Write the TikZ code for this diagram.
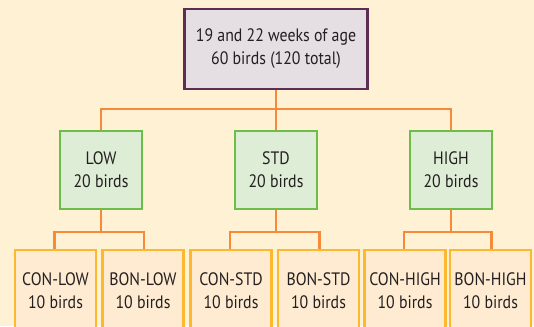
\documentclass[tikz,border=0pt]{standalone}
\usepackage{fontspec}
\setmainfont{PT Sans}[FakeStretch=0.88]
\definecolor{bg}{HTML}{FFF2D4}
\definecolor{topfill}{HTML}{E5DFE3}
\definecolor{topline}{HTML}{5E2D52}
\definecolor{gfill}{HTML}{DEEDD5}
\definecolor{gline}{HTML}{6CBE4A}
\definecolor{bfill}{HTML}{FEEBD2}
\definecolor{bline}{HTML}{FDB92E}
\definecolor{conn}{HTML}{F58A3A}
\definecolor{txt}{HTML}{231F20}
\begin{document}
\begin{tikzpicture}[x=1pt,y=-1pt,
  every node/.style={font=\fontsize{18}{23}\selectfont, text=txt, align=center, inner sep=0pt},
  topbox/.style={draw=topline, fill=topfill, line width=2.8pt, minimum width=183pt, minimum height=80pt},
  grpbox/.style={draw=gline, fill=gfill, line width=2.8pt, minimum width=82pt, minimum height=78pt},
  subbox/.style={draw=bline, fill=bfill, line width=2.8pt, minimum width=81pt, minimum height=82pt},
  link/.style={draw=conn, line width=2.2pt}]
\fill[bg] (0,0) rectangle (534,326);
\useasboundingbox (0,0) rectangle (534,326);
\clip (0,0) rectangle (534,326);
\node[topbox] (top) at (276,49) {19 and 22 weeks of age\\60 birds (120 total)};
\node[grpbox] (low) at (101,170) {LOW\\20 birds};
\node[grpbox] (std) at (276,170) {STD\\20 birds};
\node[grpbox] (high) at (451,170) {HIGH\\20 birds};
\node[subbox] (conlow) at (55.5,291) {CON-LOW\\10 birds};
\node[subbox] (bonlow) at (143,291) {BON-LOW\\10 birds};
\node[subbox] (constd) at (231,291) {CON-STD\\10 birds};
\node[subbox] (bonstd) at (318.5,291) {BON-STD\\10 birds};
\node[subbox] (conhigh) at (405,291) {CON-HIGH\\10 birds};
\node[subbox] (bonhigh) at (490.5,291) {BON-HIGH\\10 birds};
\coordinate (h1) at (0,109);
\coordinate (h2) at (0,232);
\draw[link] (top.south) -- (top.south |- h1);
\draw[link] (low.north) |- (high.north |- h1) -- (high.north);
\draw[link] (std.north) -- (std.north |- h1);
\foreach \g/\a/\b in {low/conlow/bonlow, std/constd/bonstd, high/conhigh/bonhigh}{
  \draw[link] (\g.south) -- (\g.south |- h2);
  \draw[link] ([xshift=-1pt]\a.north) |- ([xshift=1pt]\b.north |- h2) -- ([xshift=1pt]\b.north);
}
\end{tikzpicture}
\end{document}
